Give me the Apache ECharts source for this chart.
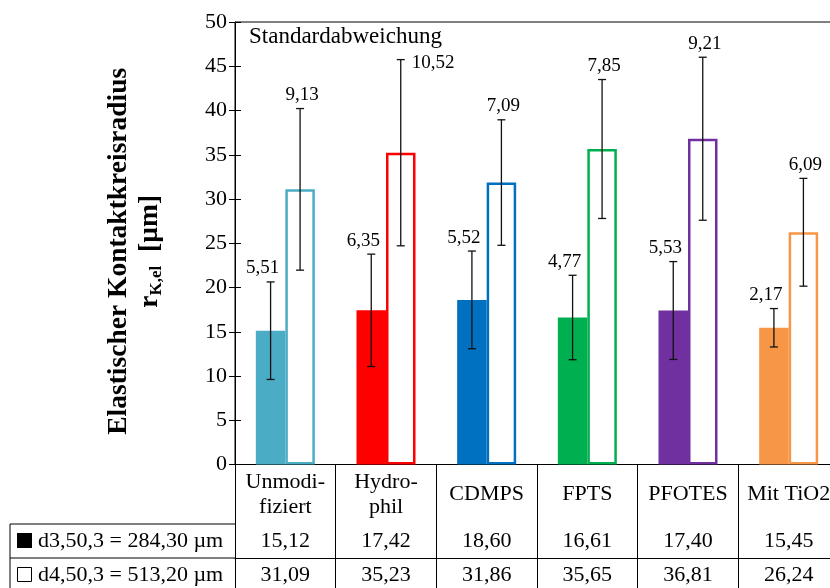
<!DOCTYPE html>
<html>
<head>
<meta charset="utf-8">
<script src="https://cdn.jsdelivr.net/npm/echarts@6/dist/echarts.min.js"></script>
<style>
  html, body { margin: 0; padding: 0; background: #fff; }
  #chart { width: 830px; height: 588px; }
</style>
</head>
<body>
<div id="chart"></div>
<script>
// Surface treatments and the two particle size fractions
const categories = ['Unmodi-\nfiziert', 'Hydro-\nphil', 'CDMPS', 'FPTS', 'PFOTES', 'Mit TiO2'];
const d3Name = 'd3,50,3 = 284,30 µm';
const d4Name = 'd4,50,3 = 513,20 µm';

// Mean elastic contact radius (µm) and standard deviation per fraction
const d3Values = [15.12, 17.42, 18.60, 16.61, 17.40, 15.45];
const d3StdDev = [5.51, 6.35, 5.52, 4.77, 5.53, 2.17];
const d4Values = [31.09, 35.23, 31.86, 35.65, 36.81, 26.24];
const d4StdDev = [9.13, 10.52, 7.09, 7.85, 9.21, 6.09];

// Value axis ticks
const yMin = 0, yMax = 50, yStep = 5;

// Styling
const treatmentColors = ['#4BACC6', '#FF0000', '#0070C0', '#00B050', '#7030A0', '#F79646'];
const d4LabelSide = ['top', 'right', 'top', 'top', 'top', 'top'];
const FONT = '"Liberation Serif", "Times New Roman", serif';
const BAR_W = 29.5;
const TABLE_FS = 22;

const fmt = v => v.toFixed(2).replace('.', ',');

const chart = echarts.init(document.getElementById('chart'), null, { renderer: 'canvas' });

function errorBars(means, devs, offset, labelShift, sides) {
  return {
    type: 'custom',
    xAxisIndex: 0,
    yAxisIndex: 0,
    z: 10,
    silent: true,
    data: means.map((m, i) => [i, m, devs[i]]),
    encode: { x: 0, y: 1 },
    renderItem(params, api) {
      const idx = api.value(0);
      const mean = api.value(1);
      const sd = api.value(2);
      const top = api.coord([idx, mean + sd]);
      const bot = api.coord([idx, mean - sd]);
      const x = top[0] + offset;
      const cap = 4;
      const ls = { stroke: '#111', lineWidth: 1.3 };
      const side = sides ? sides[params.dataIndex] : 'top';
      const txt = side === 'right'
        ? { text: fmt(sd), x: x + 11, y: top[1] + 3, align: 'left', verticalAlign: 'middle' }
        : { text: fmt(sd), x: x + labelShift, y: top[1] - 4, align: 'center', verticalAlign: 'bottom' };
      return {
        type: 'group',
        children: [
          { type: 'line', shape: { x1: x, y1: top[1], x2: x, y2: bot[1] }, style: ls },
          { type: 'line', shape: { x1: x - cap, y1: top[1], x2: x + cap, y2: top[1] }, style: ls },
          { type: 'line', shape: { x1: x - cap, y1: bot[1], x2: x + cap, y2: bot[1] }, style: ls },
          { type: 'text', style: Object.assign({ fill: '#000', font: '19px ' + FONT }, txt) }
        ]
      };
    }
  };
}

const option = {
  animation: false,
  backgroundColor: '#fff',
  textStyle: { fontFamily: FONT, color: '#000' },
  title: {
    text: 'Standardabweichung',
    left: 249,
    top: 25,
    padding: 0,
    textStyle: { fontFamily: FONT, fontSize: 23, fontWeight: 'normal', color: '#000' }
  },
  grid: {
    left: 235,
    top: 22,
    right: -9,
    bottom: 123.5,
    show: true,
    borderColor: '#000',
    borderWidth: 1,
    backgroundColor: 'transparent',
    containLabel: false,
    outerBoundsMode: 'none'
  },
  xAxis: [
    {
      type: 'category',
      data: categories,
      position: 'bottom',
      axisLine: { show: true, lineStyle: { color: '#000', width: 1 } },
      axisTick: { show: true, length: 128, inside: false, lineStyle: { color: '#000', width: 1 } },
      axisLabel: {
        interval: 0,
        margin: 5,
        fontFamily: FONT,
        fontSize: TABLE_FS,
        color: '#000',
        formatter: v => v.indexOf('\n') >= 0 ? '{two|' + v + '}' : '{one|' + v + '}',
        rich: {
          two: { fontFamily: FONT, fontSize: TABLE_FS, lineHeight: 25, color: '#000' },
          one: { fontFamily: FONT, fontSize: TABLE_FS, lineHeight: 50, color: '#000' }
        }
      },
      splitLine: { show: false }
    },
    {
      type: 'category',
      data: categories,
      position: 'bottom',
      offset: 59.5,
      axisLine: { show: true, lineStyle: { color: '#000', width: 1 } },
      axisTick: { show: false },
      axisLabel: {
        interval: 0, margin: 0, fontFamily: FONT, fontSize: TABLE_FS, lineHeight: 34, color: '#000',
        formatter: (v, i) => fmt(d3Values[i])
      },
      splitLine: { show: false }
    },
    {
      type: 'category',
      data: categories,
      position: 'bottom',
      offset: 93.5,
      axisLine: { show: true, lineStyle: { color: '#000', width: 1 } },
      axisTick: { show: false },
      axisLabel: {
        interval: 0, margin: 0, fontFamily: FONT, fontSize: TABLE_FS, lineHeight: 34, color: '#000',
        formatter: (v, i) => fmt(d4Values[i])
      },
      splitLine: { show: false }
    }
  ],
  yAxis: [
    {
      type: 'value',
      min: yMin,
      max: yMax,
      interval: yStep,
      position: 'left',
      axisLine: { show: true, lineStyle: { color: '#000', width: 1 } },
      axisTick: { show: true, inside: false, length: 6, lineStyle: { color: '#000', width: 1 } },
      axisLabel: { margin: 8, fontFamily: FONT, fontSize: 22, color: '#000' },
      splitLine: { show: false },
      name: '{t|Elastischer Kontaktkreisradius}\n{r|r}{s|K,el}{t|  [µm]}',
      nameLocation: 'middle',
      nameRotate: 90,
      nameGap: 70,
      nameTextStyle: {
        fontFamily: FONT,
        fontWeight: 'bold',
        color: '#000',
        padding: [0, 16, 0, 0],
        rich: {
          t: { fontFamily: FONT, fontSize: 27.5, fontWeight: 'bold', lineHeight: 31, color: '#000' },
          r: { fontFamily: FONT, fontSize: 27.5, fontWeight: 'bold', lineHeight: 31, color: '#000' },
          s: { fontFamily: FONT, fontSize: 17, fontWeight: 'bold', lineHeight: 17, verticalAlign: 'bottom', color: '#000' }
        }
      }
    },
    {
      type: 'value',
      min: yMin,
      max: yMax,
      interval: yStep,
      position: 'left',
      axisLine: { show: false },
      axisTick: { show: true, inside: true, length: 6, lineStyle: { color: '#000', width: 1 } },
      axisLabel: { show: false },
      splitLine: { show: false }
    }
  ],
  series: [
    {
      name: d3Name,
      type: 'bar',
      xAxisIndex: 0,
      yAxisIndex: 0,
      barWidth: BAR_W,
      barGap: '0%',
      data: d3Values.map((v, i) => ({ value: v, itemStyle: { color: treatmentColors[i] } }))
    },
    {
      name: d4Name,
      type: 'bar',
      xAxisIndex: 0,
      yAxisIndex: 0,
      barWidth: BAR_W,
      barGap: '0%',
      data: d4Values.map((v, i) => ({
        value: v,
        itemStyle: { color: '#fff', borderColor: treatmentColors[i], borderWidth: 2.5 }
      }))
    },
    errorBars(d3Values, d3StdDev, -BAR_W / 2, -8, null),
    errorBars(d4Values, d4StdDev, BAR_W / 2, 2, d4LabelSide)
  ],
  graphic: [
    // left part of the data table: series legend cells
    { type: 'line', shape: { x1: 10, y1: 524, x2: 235, y2: 524 }, style: { stroke: '#000', lineWidth: 1 } },
    { type: 'line', shape: { x1: 10, y1: 558, x2: 235, y2: 558 }, style: { stroke: '#000', lineWidth: 1 } },
    { type: 'line', shape: { x1: 10, y1: 524, x2: 10, y2: 592 }, style: { stroke: '#000', lineWidth: 1 } },
    { type: 'rect', shape: { x: 17, y: 533, width: 15, height: 15 }, style: { fill: '#000' } },
    { type: 'rect', shape: { x: 17.5, y: 567.5, width: 14, height: 14 }, style: { fill: '#fff', stroke: '#000', lineWidth: 1 } },
    { type: 'text', style: { text: d3Name, x: 38, y: 541, verticalAlign: 'middle', font: TABLE_FS + 'px ' + FONT, fill: '#000' } },
    { type: 'text', style: { text: d4Name, x: 38, y: 575, verticalAlign: 'middle', font: TABLE_FS + 'px ' + FONT, fill: '#000' } }
  ]
};

chart.setOption(option);
</script>
</body>
</html>
